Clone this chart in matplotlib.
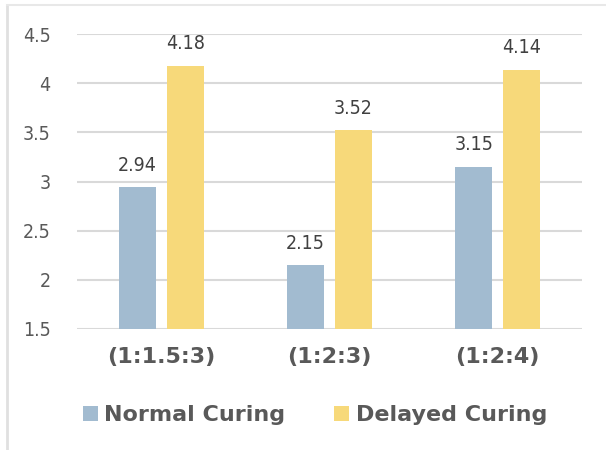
import matplotlib
matplotlib.use("Agg")
import matplotlib.pyplot as plt
import numpy as np
from matplotlib.patches import Patch
from matplotlib import font_manager

categories = ["(1:1.5:3)", "(1:2:3)", "(1:2:4)"]
normal_curing = [2.94, 2.15, 3.15]
delayed_curing = [4.18, 3.52, 4.14]
series_names = ["Normal Curing", "Delayed Curing"]
y_ticks = [1.5, 2, 2.5, 3, 3.5, 4, 4.5]

blue = "#A2BBD0"
yellow = "#F7D97A"
text_col = "#595959"
grid_col = "#D9D9D9"

# pick a narrow face for the numbers if one is installed
narrow_path = None
for f in font_manager.fontManager.ttflist:
    fn = f.fname.lower()
    if ("narrow" in fn or "condensed" in fn) and "bold" not in fn and "oblique" not in fn and "italic" not in fn:
        if narrow_path is None or "liberation" in fn:
            narrow_path = f.fname
if narrow_path:
    num_font = font_manager.FontProperties(fname=narrow_path, size=14)
    tick_font = font_manager.FontProperties(fname=narrow_path, size=14)
else:
    num_font = font_manager.FontProperties(family="DejaVu Sans", size=12.5)
    tick_font = font_manager.FontProperties(family="DejaVu Sans", size=12.5)

fig = plt.figure(figsize=(6.06, 4.5), dpi=100)
ax = fig.add_axes([0.127, 0.269, 0.833, 0.655])

x = np.arange(len(categories))
w = 0.22
off = 0.143
b1 = ax.bar(x - off, normal_curing, w, color=blue, zorder=3)
b2 = ax.bar(x + off, delayed_curing, w, color=yellow, zorder=3)

for bars, vals in ((b1, normal_curing), (b2, delayed_curing)):
    for rect, v in zip(bars, vals):
        ax.annotate(f"{v:.2f}", (rect.get_x() + rect.get_width() / 2, v),
                    xytext=(0, 9), textcoords="offset points",
                    ha="center", va="bottom", fontproperties=num_font,
                    color="#404040", zorder=4)

ax.set_ylim(1.5, 4.5)
ax.set_xlim(-0.5, 2.5)
ax.set_yticks(y_ticks)
ax.set_yticklabels([f"{t:g}" for t in y_ticks], fontproperties=tick_font, color=text_col)
ax.set_xticks(x)
ax.set_xticklabels(categories, fontsize=16, fontweight="bold", color=text_col)
ax.tick_params(axis="both", length=0)
ax.tick_params(axis="y", pad=19)
ax.tick_params(axis="x", pad=13)
ax.yaxis.grid(True, color=grid_col, linewidth=1.5, zorder=0)
for s in ax.spines.values():
    s.set_visible(False)

handles = [Patch(facecolor=blue), Patch(facecolor=yellow)]
fig.legend(handles, series_names, loc="center", bbox_to_anchor=(0.52, 0.077),
           ncol=2, frameon=False, prop={"weight": "bold", "size": 16},
           labelcolor=text_col, handlelength=0.65, handleheight=0.65,
           handletextpad=0.3, columnspacing=2.2)

# outer frame lines on the left and top edges
fig.add_artist(plt.Line2D([0.011, 0.011], [0, 0.99], transform=fig.transFigure,
                          color="#E0E0E0", linewidth=2))
fig.add_artist(plt.Line2D([0.011, 1.0], [0.99, 0.99], transform=fig.transFigure,
                          color="#E8E8E8", linewidth=1.5))

fig.savefig("out.png", dpi=100, facecolor="white")
